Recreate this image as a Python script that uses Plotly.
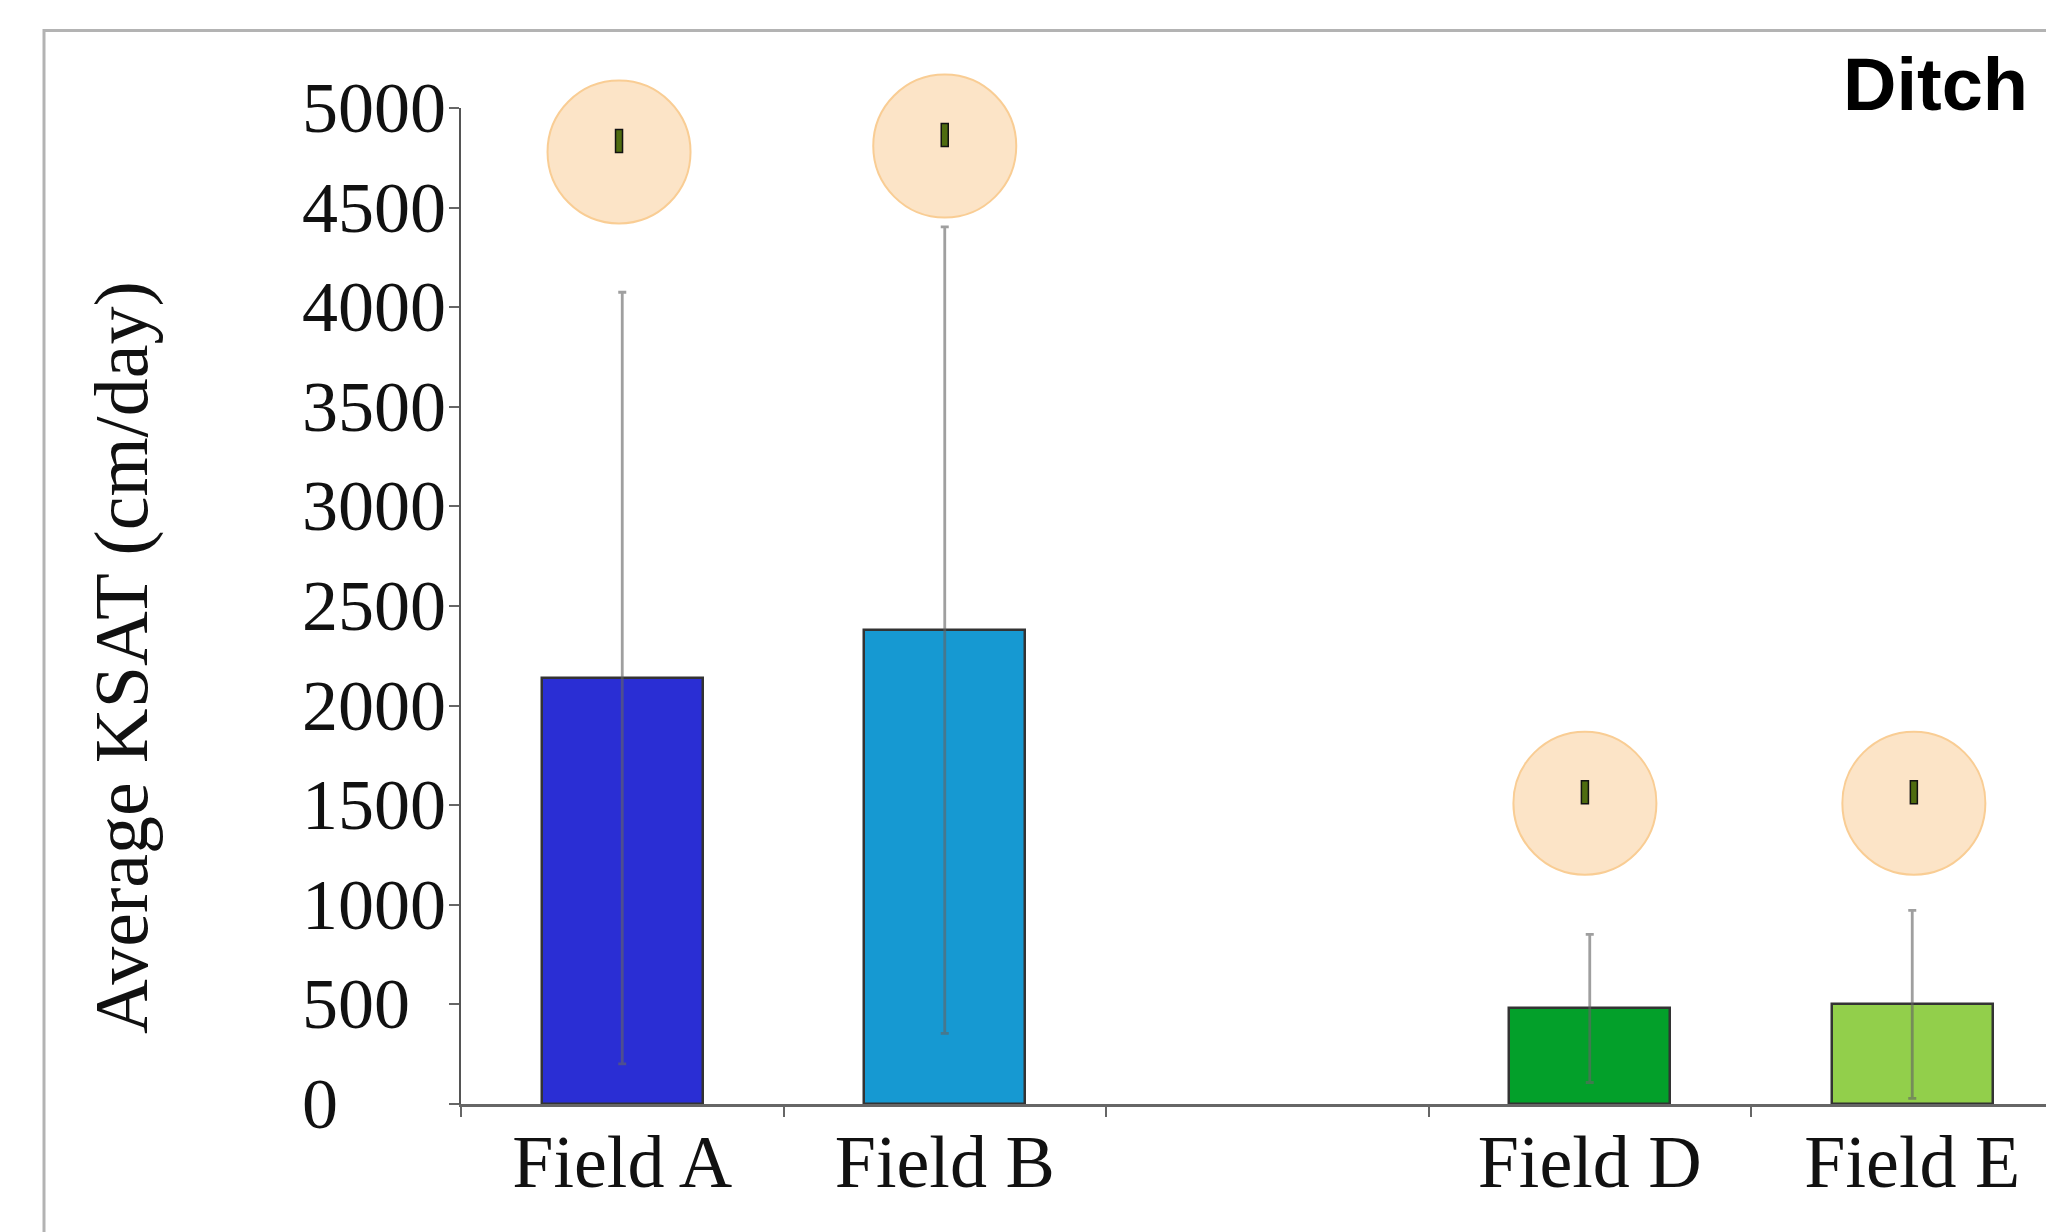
import plotly.graph_objects as go

# ---- data -------------------------------------------------------------
categories = ["Field A", "Field B", "", "Field D", "Field E"]
ksat_mean = [2138, 2379, None, 480, 500]          # cm/day
ksat_err = [1937, 2024, None, 372, 472]           # +/- cm/day
bar_colors = ["#2a2ed4", "#1699d2", None, "#03a02a", "#92cf4b"]
badge_x = [-0.01, 1.0, 2.985, 4.005]
badge_y = [4779, 4809, 1510, 1510]
y_ticks = [0, 500, 1000, 1500, 2000, 2500, 3000, 3500, 4000, 4500, 5000]

# ---- geometry (pixels) ------------------------------------------------
W, H = 2046, 1232
ML, MT, MB, MR = 461, 108, 128, 0
PW, PH = W - ML - MR, H - MT - MB
CAT_PX = 322.5


def px_x(px):
    return (px - ML) / PW


def px_y(py):
    return (H - MB - py) / PH


serif = "Liberation Serif"
pos = [i for i, v in enumerate(ksat_mean) if v is not None]

fig = go.Figure()

fig.add_trace(go.Bar(
    x=pos,
    y=[ksat_mean[i] for i in pos],
    width=0.5,
    marker=dict(color=[bar_colors[i] for i in pos],
                line=dict(color="#333333", width=2.5)),
    error_y=dict(type="data", array=[ksat_err[i] for i in pos],
                 color="rgba(100,100,100,0.62)", thickness=2.8, width=4),
    showlegend=False,
))

# peach badges above the bars
fig.add_trace(go.Scatter(
    x=badge_x, y=badge_y, mode="markers", cliponaxis=False,
    marker=dict(symbol="circle", size=143, color="#fce4c7",
                line=dict(color="#f9cd94", width=2)),
    showlegend=False, hoverinfo="skip",
))

shapes = []
for bx, by in zip(badge_x, badge_y):
    shapes.append(dict(
        type="rect", xref="x", yref="y",
        xsizemode="pixel", ysizemode="pixel",
        xanchor=bx, yanchor=by,
        x0=-3.5, x1=3.5, y0=-0.5, y1=22.5,
        fillcolor="#4f6c10", line=dict(color="#111111", width=1.5),
        layer="above",
    ))

# outer frame around the panel
shapes.append(dict(
    type="rect", xref="paper", yref="paper",
    x0=px_x(44), x1=1.05, y0=-0.3, y1=px_y(30.5),
    line=dict(color="#b3b3b3", width=3), fillcolor="rgba(0,0,0,0)",
    layer="below",
))

annotations = []
for t in y_ticks:
    annotations.append(dict(
        x=px_x(300), xref="paper", y=t, yref="y",
        text=str(t), showarrow=False, xanchor="left", yanchor="middle",
        font=dict(family=serif, size=72, color="#111111"),
    ))

annotations.append(dict(
    x=px_x(121), xref="paper", y=px_y(658), yref="paper",
    text="Average KSAT (cm/day)", textangle=-90, showarrow=False,
    xanchor="center", yanchor="middle",
    font=dict(family=serif, size=76, color="#111111"),
))

annotations.append(dict(
    x=px_x(2030), xref="paper", y=px_y(84.5), yref="paper",
    text="<b>Ditch</b>", showarrow=False, xanchor="right", yanchor="middle",
    font=dict(family="Liberation Sans", size=74, color="#000000"),
))

fig.update_layout(
    width=W, height=H,
    margin=dict(l=ML, r=MR, t=MT, b=MB, autoexpand=False),
    paper_bgcolor="white", plot_bgcolor="white",
    shapes=shapes, annotations=annotations,
    bargap=0,
    xaxis=dict(
        range=[-0.5, -0.5 + PW / CAT_PX],
        tickmode="array", tickvals=pos, ticktext=[categories[i] for i in pos],
        ticks="", showgrid=False, zeroline=False,
        showline=True, linecolor="#666666", linewidth=2.5,
        tickfont=dict(family=serif, size=74, color="#111111"),
        ticklabelstandoff=-9,
        minor=dict(tickmode="array",
                   tickvals=[i - 0.5 for i in range(len(categories))],
                   ticks="outside", ticklen=10, tickwidth=2,
                   tickcolor="#666666", showgrid=False),
        automargin=False,
    ),
    yaxis=dict(
        range=[0, 5000], tickmode="array", tickvals=y_ticks,
        showticklabels=False, ticks="outside", ticklen=10, tickwidth=2,
        tickcolor="#666666", showgrid=False, zeroline=False,
        showline=True, linecolor="#555555", linewidth=2,
        automargin=False,
    ),
)

fig.write_html("out.html")
